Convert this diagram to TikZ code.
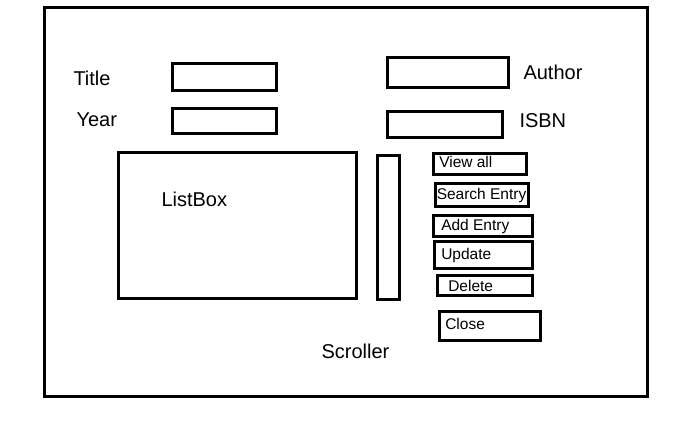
\documentclass[tikz,border=0pt]{standalone}
\usepackage{fontspec}
\setmainfont{Liberation Sans}
\usetikzlibrary{positioning}

\begin{document}
\begin{tikzpicture}[x=1pt, y=-1pt, line width=3pt,
                    box/.style={draw,rectangle,inner sep=0pt},
                    caption/.style={font=\fontsize{20}{24}\selectfont,inner sep=0pt,anchor=west},
                    btn/.style={draw,rectangle,inner sep=0pt,anchor=north west},
                    btn text/.style={font=\fontsize{15.5}{18}\selectfont,inner sep=0pt}]

  \useasboundingbox (0,0) rectangle (699,424);

  % window frame
  \node[box,minimum width=603,minimum height=389] (window) at (346,202) {};

  % entry fields
  \node[box,minimum width=103.5,minimum height=26.5] (titlebox) at (224.5,77) {};
  \node[box,minimum width=103.5,minimum height=24.5] (yearbox) at (224.5,121) {};
  \node[box,minimum width=120.5,minimum height=29.5] (authorbox) at (448,72.5) {};
  \node[box,minimum width=114.5,minimum height=25.5] (isbnbox) at (445,124.5) {};

  \node[caption] (title) at (72,78) {Title};
  \node[caption] (year) at (75,120) {Year};
  \node[caption] (author) at (522,72) {Author};
  \node[caption] (isbn) at (518,121) {ISBN};

  % list and scroller
  \node[box,minimum width=237.5,minimum height=145.5] (listbox) at (237.5,225.5) {};
  \node[box,minimum width=21.5,minimum height=143.5] (scroller) at (388.5,227.5) {};
  \node[caption] (listname) at (160,199) {ListBox};
  \node[caption] (scrollname) at (320,351) {Scroller};

  % buttons
  \node[btn,minimum width=93.5,minimum height=21.5] (viewall) at (431.75,151.75) {};
  \node[btn,minimum width=93.5,minimum height=23.5] (search) at (433.75,181.75) {};
  \node[btn,minimum width=99.5,minimum height=21.5] (add) at (431.75,213.75) {};
  \node[btn,minimum width=98.5,minimum height=27.5] (update) at (432.75,239.75) {};
  \node[btn,minimum width=95.5,minimum height=20.5] (delete) at (435.75,273.75) {};
  \node[btn,minimum width=101.5,minimum height=29.5] (close) at (437.75,309.75) {};

  \node[btn text] [right=6pt of viewall.west,yshift=2.5pt] {View all};
  \node[btn text] [right=1.5pt of search.west] {Search Entry};
  \node[btn text] [right=8pt of add.west] {Add Entry};
  \node[btn text] [right=7pt of update.west] {Update};
  \node[btn text] [right=11pt of delete.west] {Delete};
  \node[btn text] [right=6pt of close.west,yshift=2pt] {Close};

\end{tikzpicture}
\end{document}
